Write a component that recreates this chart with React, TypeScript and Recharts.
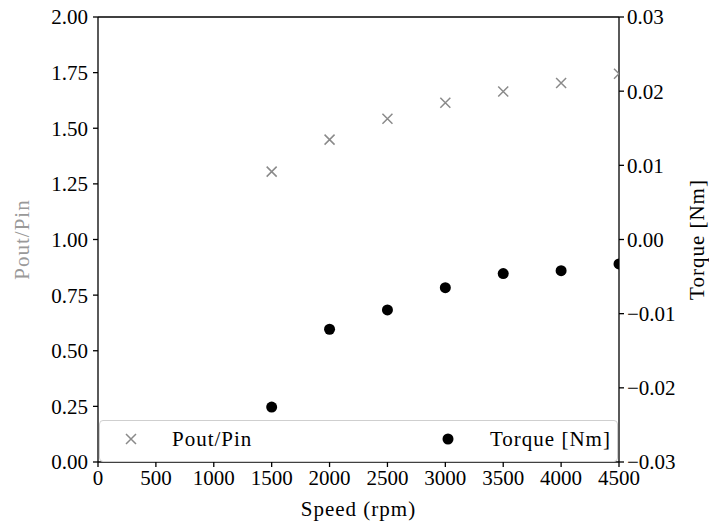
import React from 'react';
import {
  ComposedChart,
  Scatter,
  XAxis,
  YAxis,
  ReferenceLine,
  Legend,
} from 'recharts';

// Motor speed sweep
const speeds = [1500, 2000, 2500, 3000, 3500, 4000, 4500];
const poutPin = [1.305, 1.449, 1.543, 1.615, 1.665, 1.703, 1.745];
const torque = [-0.0226, -0.0121, -0.0095, -0.0065, -0.0046, -0.0042, -0.0033];

const speedTicks = [0, 500, 1000, 1500, 2000, 2500, 3000, 3500, 4000, 4500];
const ratioTicks = [0, 0.25, 0.5, 0.75, 1.0, 1.25, 1.5, 1.75, 2.0];
const torqueTicks = [-0.03, -0.02, -0.01, 0, 0.01, 0.02, 0.03];

const ratioData = speeds.map((s, i) => ({ speed: s, ratio: poutPin[i] }));
const torqueData = speeds.map((s, i) => ({ speed: s, torque: torque[i] }));

const FONT = '"Liberation Serif", "Times New Roman", serif';
const GREY = '#8a8a8a';
const AXIS = { stroke: '#000', strokeWidth: 1.3 };
const TICK = { fontSize: 21, fill: '#000', fontFamily: FONT };

const fmtTorque = (v: number) => {
  const s = Math.abs(v).toFixed(2);
  return v < -1e-9 ? '\u2212' + s : s;
};

const Cross = (p: any) => {
  const { cx, cy } = p;
  const s = 5;
  return (
    <path
      d={`M${cx - s},${cy - s}L${cx + s},${cy + s}M${cx - s},${cy + s}L${cx + s},${cy - s}`}
      stroke={GREY}
      strokeWidth={1.5}
      fill="none"
    />
  );
};

const Dot = (p: any) => <circle cx={p.cx} cy={p.cy} r={5.5} fill="#000" />;

const LeftTitle = (props: any) => {
  const { x, y, height } = props.viewBox;
  const cx = x + 22;
  const cy = y + height / 2;
  return (
    <text
      x={cx}
      y={cy}
      transform={`rotate(-90, ${cx}, ${cy})`}
      textAnchor="middle"
      dominantBaseline="central"
      fill="#999"
      fontSize={21}
      fontFamily={FONT}
      letterSpacing={1}
    >
      Pout/Pin
    </text>
  );
};

const RightTitle = (props: any) => {
  const { x, y, height } = props.viewBox;
  const cx = x + 78;
  const cy = y + height / 2;
  return (
    <text
      x={cx}
      y={cy}
      transform={`rotate(-90, ${cx}, ${cy})`}
      textAnchor="middle"
      dominantBaseline="central"
      fill="#000"
      fontSize={21}
      fontFamily={FONT}
      letterSpacing={1}
    >
      Torque [Nm]
    </text>
  );
};

const renderLegend = () => (
  <div
    style={{
      position: 'relative',
      width: 519,
      height: 42,
      boxSizing: 'border-box',
      border: '1px solid #cfcfcf',
      borderRadius: 4,
      background: 'rgba(255,255,255,0.8)',
      fontFamily: FONT,
      fontSize: 21,
      letterSpacing: 1,
    }}
  >
    <svg width={519} height={42} style={{ position: 'absolute', left: 0, top: 0 }}>
      <Cross cx={31} cy={18} />
      <Dot cx={348} cy={18} />
    </svg>
    <span style={{ position: 'absolute', left: 72, top: 5, lineHeight: '26px' }}>Pout/Pin</span>
    <span style={{ position: 'absolute', left: 390, top: 5, lineHeight: '26px' }}>Torque [Nm]</span>
  </div>
);

export default function App() {
  return (
    <div style={{ position: 'absolute', left: 0, top: 0, width: 709, height: 525, background: '#fff' }}>
      <ComposedChart
        width={709}
        height={525}
        margin={{ top: 17, right: 0, bottom: 0, left: 0 }}
        style={{ fontFamily: FONT }}
      >
        <XAxis
          type="number"
          dataKey="speed"
          domain={[0, 4500]}
          ticks={speedTicks}
          interval={0}
          allowDataOverflow
          height={63}
          axisLine={AXIS}
          tickLine={AXIS}
          tickSize={5}
          tickMargin={3}
          tick={TICK}
          label={{
            value: 'Speed (rpm)',
            position: 'insideBottom',
            offset: 9,
            fontSize: 21,
            fill: '#000',
            fontFamily: FONT,
            letterSpacing: 1,
          }}
        />
        <YAxis
          yAxisId="left"
          type="number"
          dataKey="ratio"
          domain={[0, 2]}
          ticks={ratioTicks}
          interval={0}
          width={98}
          axisLine={AXIS}
          tickLine={AXIS}
          tickSize={5}
          tickMargin={5}
          tick={TICK}
          tickFormatter={(v: number) => v.toFixed(2)}
          label={LeftTitle}
        />
        <YAxis
          yAxisId="right"
          orientation="right"
          type="number"
          dataKey="torque"
          domain={[-0.03, 0.03]}
          ticks={torqueTicks}
          interval={0}
          width={90}
          axisLine={AXIS}
          tickLine={AXIS}
          tickSize={5}
          tickMargin={3}
          tick={TICK}
          tickFormatter={fmtTorque}
          label={RightTitle}
        />
        <ReferenceLine yAxisId="left" y={2} stroke="#000" strokeWidth={1.3} />
        <Scatter
          name="Pout/Pin"
          yAxisId="left"
          data={ratioData}
          dataKey="ratio"
          shape={Cross}
          isAnimationActive={false}
        />
        <Scatter
          name="Torque [Nm]"
          yAxisId="right"
          data={torqueData}
          dataKey="torque"
          shape={Dot}
          isAnimationActive={false}
        />
        <Legend
          layout="horizontal"
          align="center"
          verticalAlign="middle"
          content={renderLegend}
          wrapperStyle={{ left: 99, top: 420, width: 519, height: 42 }}
        />
      </ComposedChart>
    </div>
  );
}
